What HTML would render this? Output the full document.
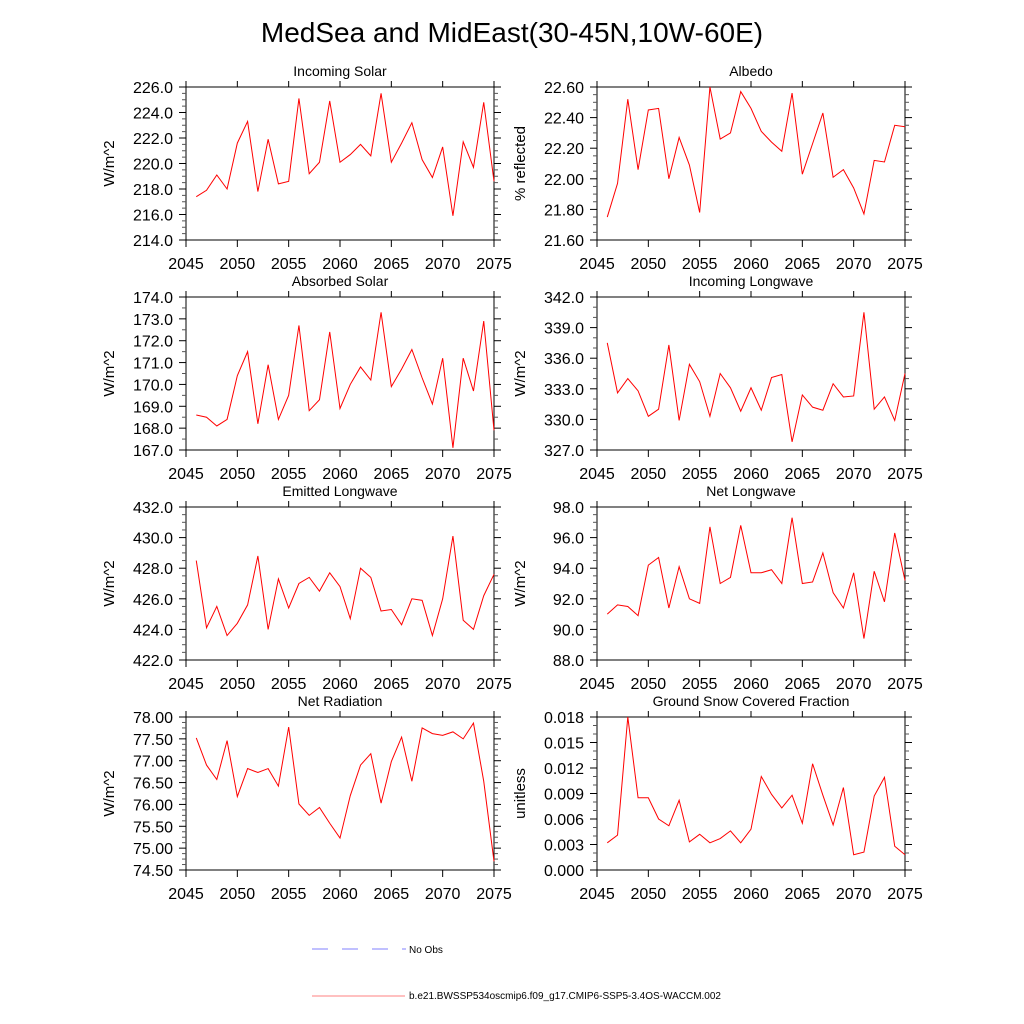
<!DOCTYPE html>
<html><head><meta charset="utf-8"><style>
body{margin:0;background:#fff;}
svg{display:block;font-family:"Liberation Sans",sans-serif;}
</style></head><body>
<svg id="chart" width="1024" height="1024" viewBox="0 0 1024 1024">
<text x="512" y="42" font-size="28" text-anchor="middle">MedSea and MidEast(30-45N,10W-60E)</text>
<g id="panels"></g>
<g>
<line x1="312" y1="949" x2="406" y2="949" stroke="#8080ff" stroke-width="1" stroke-dasharray="16,14"/>
<text x="409" y="953" font-size="10">No Obs</text>
<line x1="312" y1="996" x2="405" y2="996" stroke="#ff8080" stroke-width="1"/>
<text x="409" y="999" font-size="10">b.e21.BWSSP534oscmip6.f09_g17.CMIP6-SSP5-3.4OS-WACCM.002</text>
</g>
</svg>
<script>
const years = [2046,2047,2048,2049,2050,2051,2052,2053,2054,2055,2056,2057,2058,2059,2060,2061,2062,2063,2064,2065,2066,2067,2068,2069,2070,2071,2072,2073,2074,2075];
const incomingSolar = [217.4,217.9,219.1,218.0,221.6,223.3,217.8,221.9,218.4,218.6,225.1,219.2,220.1,224.9,220.1,220.7,221.5,220.6,225.5,220.1,221.6,223.2,220.3,218.9,221.3,215.9,221.7,219.7,224.8,218.6];
const albedo = [21.75,21.97,22.52,22.06,22.45,22.46,22.00,22.27,22.09,21.78,22.60,22.26,22.30,22.57,22.46,22.31,22.24,22.18,22.56,22.03,22.23,22.43,22.01,22.06,21.94,21.77,22.12,22.11,22.35,22.34];
const absorbedSolar = [168.6,168.5,168.1,168.4,170.4,171.5,168.2,170.9,168.4,169.5,172.7,168.8,169.3,172.4,168.9,170.0,170.8,170.2,173.3,169.9,170.7,171.6,170.3,169.1,171.2,167.1,171.2,169.7,172.9,167.9];
const incomingLW = [337.5,332.6,334.0,332.8,330.3,331.0,337.3,329.9,335.4,333.7,330.3,334.5,333.1,330.8,333.1,330.9,334.1,334.4,327.8,332.4,331.2,330.9,333.5,332.2,332.3,340.5,331.0,332.2,329.9,334.5];
const emittedLW = [428.5,424.1,425.5,423.6,424.4,425.6,428.8,424.0,427.3,425.4,427.0,427.4,426.5,427.7,426.8,424.7,428.0,427.4,425.2,425.3,424.3,426.0,425.9,423.6,426.0,430.1,424.6,424.0,426.2,427.6];
const netLW = [91.0,91.6,91.5,90.9,94.2,94.7,91.4,94.1,92.0,91.7,96.7,93.0,93.4,96.8,93.7,93.7,93.9,93.0,97.3,93.0,93.1,95.0,92.4,91.4,93.7,89.4,93.8,91.8,96.3,93.2];
const netRad = [77.52,76.90,76.57,77.46,76.18,76.82,76.73,76.82,76.42,77.77,76.01,75.75,75.93,75.57,75.23,76.20,76.90,77.16,76.03,76.98,77.54,76.53,77.75,77.62,77.58,77.66,77.50,77.86,76.53,74.70];
const snowFrac = [0.0032,0.0041,0.0180,0.0085,0.0085,0.0060,0.0052,0.0082,0.0033,0.0042,0.0032,0.0037,0.0046,0.0032,0.0048,0.0110,0.0089,0.0073,0.0088,0.0055,0.0125,0.0088,0.0053,0.0097,0.0018,0.0021,0.0087,0.0109,0.0028,0.0018];
const xTicks = [2045,2050,2055,2060,2065,2070,2075];

const panels = [
 {name:'incoming-solar',title:'Incoming Solar',ylab:'W/m^2',data:incomingSolar,min:214,max:226,step:2,dec:1,minor:4,col:0,row:0},
 {name:'albedo',title:'Albedo',ylab:'% reflected',data:albedo,min:21.6,max:22.6,step:0.2,dec:2,minor:4,col:1,row:0},
 {name:'absorbed-solar',title:'Absorbed Solar',ylab:'W/m^2',data:absorbedSolar,min:167,max:174,step:1,dec:1,minor:2,col:0,row:1},
 {name:'incoming-longwave',title:'Incoming Longwave',ylab:'W/m^2',data:incomingLW,min:327,max:342,step:3,dec:1,minor:3,col:1,row:1},
 {name:'emitted-longwave',title:'Emitted Longwave',ylab:'W/m^2',data:emittedLW,min:422,max:432,step:2,dec:1,minor:4,col:0,row:2},
 {name:'net-longwave',title:'Net Longwave',ylab:'W/m^2',data:netLW,min:88,max:98,step:2,dec:1,minor:4,col:1,row:2},
 {name:'net-radiation',title:'Net Radiation',ylab:'W/m^2',data:netRad,min:74.5,max:78,step:0.5,dec:2,minor:4,col:0,row:3},
 {name:'ground-snow',title:'Ground Snow Covered Fraction',ylab:'unitless',data:snowFrac,min:0,max:0.018,step:0.003,dec:3,minor:3,col:1,row:3}
];
const NS='http://www.w3.org/2000/svg';
const root=document.getElementById('panels');
function mk(tag,attrs,parent){const e=document.createElementNS(NS,tag);for(const k in attrs)e.setAttribute(k,attrs[k]);parent.appendChild(e);return e;}
const lefts=[186,597], tops=[87,297,507,717], W=308, H=153;
panels.forEach(p=>{
  const x0=lefts[p.col], y0=tops[p.row];
  const g=mk('g',{},root);
  
  
  const sx=v=>x0+(v-2045)/30*W;
  const sy=v=>y0+H-(v-p.min)/(p.max-p.min)*H;
  const t=mk('text',{x:x0+W/2,y:y0-11,'font-size':14,'text-anchor':'middle'},g);t.textContent=p.title;
  
  
  const yl=mk('text',{x:0,y:0,'font-size':15,'text-anchor':'middle',transform:`translate(${x0-72},${y0+H/2}) rotate(-90)`},g);yl.textContent=p.ylab;
  
  
  const fr=mk('rect',{x:x0,y:y0,width:W,height:H,fill:'none',stroke:'#000','stroke-width':1},g);
  
  
  const nMaj=Math.round((p.max-p.min)/p.step);
  for(let i=0;i<=nMaj;i++){
    const v=p.min+i*p.step, y=sy(v);
    mk('line',{x1:x0-7,y1:y,x2:x0,y2:y,stroke:'#000'},g);
    mk('line',{x1:x0+W,y1:y,x2:x0+W+7,y2:y,stroke:'#000'},g);
    const lb=mk('text',{x:x0-13,y:y+6,'font-size':16,'text-anchor':'end'},g);lb.textContent=v.toFixed(p.dec);
    
    
    if(i<nMaj){for(let j=1;j<p.minor;j++){const ym=sy(v+p.step*j/p.minor);
      mk('line',{x1:x0-4,y1:ym,x2:x0,y2:ym,stroke:'#555'},g);
      mk('line',{x1:x0+W,y1:ym,x2:x0+W+4,y2:ym,stroke:'#555'},g);}}
  }
  xTicks.forEach(v=>{const x=sx(v);
    mk('line',{x1:x,y1:y0+H,x2:x,y2:y0+H+7,stroke:'#000'},g);
    mk('line',{x1:x,y1:y0-6,x2:x,y2:y0,stroke:'#000'},g);
    const lb=mk('text',{x:x,y:y0+H+29,'font-size':16,'text-anchor':'middle'},g);lb.textContent=v;
    
    
  });
  const pts=p.data.map((v,i)=>sx(years[i]).toFixed(2)+','+sy(v).toFixed(2)).join(' ');
  const ln=mk('polyline',{points:pts,fill:'none',stroke:'#ff0000','stroke-width':1},g);
  
  
});
</script>
</body></html>
